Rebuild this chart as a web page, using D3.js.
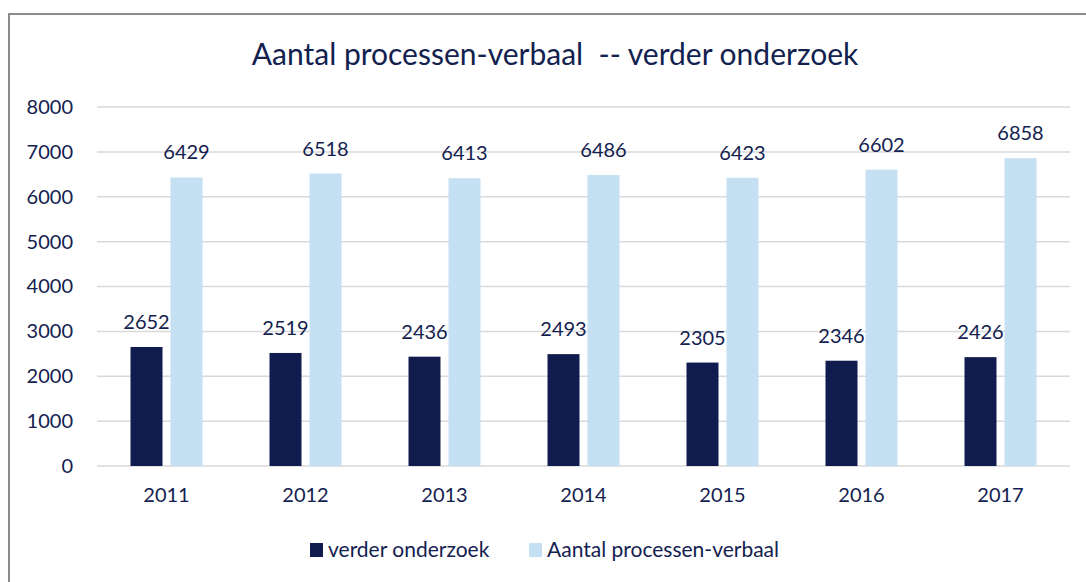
<!DOCTYPE html>
<html><head>
<script src="https://d3js.org/d3.v7.min.js"></script>
<style>
	body { margin:0; background:#fff; }
	.chart text { font-family: Lato, "Open Sans", sans-serif; fill:#13214f; }
	.grid line { stroke:#d9d9d9; stroke-width:1.5; }
</style>
</head><body>
<svg class="chart" width="1086" height="582"></svg>
<script>
var years = ["2011","2012","2013","2014","2015","2016","2017"];
var verder = [2652,2519,2436,2493,2305,2346,2426];
var aantal = [6429,6518,6413,6486,6423,6602,6858];
var yTicks = [0,1000,2000,3000,4000,5000,6000,7000,8000];
var seriesNames = ["verder onderzoek","Aantal processen-verbaal"];
var colors = ["#0f1c4d","#c5dff3"];

var plotLeft = 97, plotRight = 1070, plotTop = 107, plotBottom = 466;

var svg = d3.select(".chart");

// frame
svg.append("rect")
	.attr("x",9).attr("y",14)
	.attr("width",1100).attr("height",600)
	.attr("fill","none").attr("stroke","#8c8c8c").attr("stroke-width",2);

svg.append("text")
	.attr("x",555).attr("y",65)
	.attr("text-anchor","middle")
	.style("font-size","30px")
	.style("white-space","pre")
	.text("Aantal processen-verbaal  -- verder onderzoek");

var x = d3.scaleBand().domain(years).range([plotLeft,plotRight]);
var y = d3.scaleLinear().domain([0,8000]).range([plotBottom,plotTop]);

// gridlines
svg.append("g").attr("class","grid")
	.selectAll("line").data(yTicks).enter().append("line")
	.attr("x1",plotLeft).attr("x2",plotRight)
	.attr("y1",function(d){ return y(d); })
	.attr("y2",function(d){ return y(d); });

// y axis
var yAxis = svg.append("g")
	.attr("transform","translate(" + plotLeft + ",0)")
	.call(d3.axisLeft(y).tickValues(yTicks).tickSize(0).tickPadding(24).tickFormat(d3.format("d")));
yAxis.select(".domain").remove();
yAxis.selectAll("text").style("font-size","20px").attr("font-family",null);

// x axis
var xAxis = svg.append("g")
	.attr("transform","translate(0," + plotBottom + ")")
	.call(d3.axisBottom(x).tickSize(0).tickPadding(22));
xAxis.select(".domain").remove();
xAxis.selectAll("text").style("font-size","20px").attr("font-family",null);

var barW = 32, gap = 8;
var series = [verder, aantal];
series.forEach(function(vals, s){
	var off = s === 0 ? -gap/2 - barW : gap/2;
	var g = svg.append("g");
	g.selectAll("rect").data(vals).enter().append("rect")
		.attr("x",function(d,i){ return x(years[i]) + x.bandwidth()/2 + off; })
		.attr("y",function(d){ return y(d); })
		.attr("width",barW)
		.attr("height",function(d){ return plotBottom - y(d); })
		.attr("fill",colors[s]);
	g.selectAll("text").data(vals).enter().append("text")
		.attr("x",function(d,i){ return x(years[i]) + x.bandwidth()/2 + off + barW/2; })
		.attr("y",function(d){ return y(d) - 18; })
		.attr("text-anchor","middle")
		.style("font-size","20px")
		.text(function(d){ return d; });
});

// legend
var legX = [310, 529];
seriesNames.forEach(function(n, i){
	svg.append("rect").attr("x",legX[i]).attr("y",543).attr("width",13).attr("height",14).attr("fill",colors[i]);
	svg.append("text").attr("x",legX[i] + 18).attr("y",557)
		.style("font-size","21px").text(n);
});
</script>
</body></html>
